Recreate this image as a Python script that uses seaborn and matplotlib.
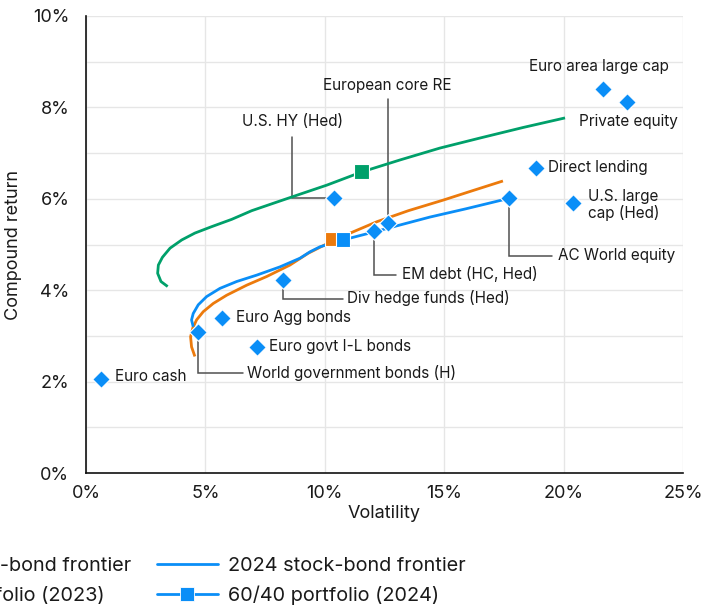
import numpy as np
import pandas as pd
import matplotlib
matplotlib.use("Agg")
import matplotlib.pyplot as plt
import seaborn as sns
from matplotlib.lines import Line2D
from matplotlib.ticker import FuncFormatter, MultipleLocator

# ---------------- data ----------------
asset_names = ["Euro cash", "World government bonds (H)", "Euro Agg bonds",
               "Euro govt I-L bonds", "Div hedge funds (Hed)", "U.S. HY (Hed)",
               "EM debt (HC, Hed)", "European core RE", "AC World equity",
               "Direct lending", "U.S. large\ncap (Hed)", "Euro area large cap",
               "Private equity"]
asset_vol = [0.63, 4.69, 5.70, 7.16, 8.25, 10.39, 12.08, 12.65, 17.73, 18.84, 20.39, 21.63, 22.65]
asset_ret = [2.06, 3.09, 3.39, 2.76, 4.22, 6.02, 5.30, 5.48, 6.02, 6.67, 5.90, 8.41, 8.12]

green_vol = [3.42, 3.14, 3.00, 3.03, 3.20, 3.52, 4.01, 4.56, 5.26, 6.10, 6.94, 7.89, 8.90,
             10.09, 11.56, 13.15, 14.82, 16.50, 18.30, 20.06]
green_ret = [4.08, 4.19, 4.37, 4.55, 4.72, 4.92, 5.10, 5.25, 5.39, 5.55, 5.74, 5.91, 6.09,
             6.30, 6.59, 6.85, 7.11, 7.33, 7.56, 7.77]

f2023_vol = [4.56, 4.42, 4.38, 4.47, 4.63, 4.91, 5.33, 5.89, 6.73, 7.57, 8.54, 9.31, 10.22,
             11.20, 12.19, 13.50, 14.95, 16.20, 17.46]
f2023_ret = [2.55, 2.76, 2.98, 3.17, 3.35, 3.53, 3.71, 3.89, 4.11, 4.30, 4.55, 4.81, 5.05,
             5.28, 5.50, 5.74, 5.97, 6.18, 6.39]

f2024_vol = [4.49, 4.42, 4.49, 4.70, 5.05, 5.61, 6.31, 7.15, 8.12, 8.96, 9.38, 9.80, 10.51,
             11.06, 12.10, 13.10, 14.40, 15.90, 17.40, 17.70]
f2024_ret = [3.20, 3.35, 3.49, 3.68, 3.86, 4.04, 4.19, 4.33, 4.51, 4.70, 4.84, 4.95, 5.06,
             5.14, 5.28, 5.42, 5.60, 5.78, 5.97, 6.01]

p6040_labels = ["60/40 portfolio (2023)", "60/40 portfolio (2024)", "Green portfolio"]
p6040_vol = [10.30, 10.76, 11.54]
p6040_ret = [5.12, 5.11, 6.60]

x_ticks = [0, 5, 10, 15, 20, 25]
y_ticks = [0, 2, 4, 6, 8, 10]

# ---------------- style ----------------
sns.set_theme(style="white")
plt.rcParams["font.family"] = ["Inter", "DejaVu Sans"]

BLUE = "#0a8ef7"
ORANGE = "#ec7a0c"
GREEN = "#00a06a"
LEADER = "#505050"
TEXT = "#1a1a1a"

fig = plt.figure(figsize=(7.2, 6.09), dpi=100)
ax = fig.add_axes([86 / 720, 1 - 473 / 609, (683 - 86) / 720, (473 - 16) / 609])

# frontiers
sns.lineplot(x=green_vol, y=green_ret, sort=False, estimator=None, ax=ax,
             color=GREEN, lw=2.0, zorder=3)
sns.lineplot(x=f2023_vol, y=f2023_ret, sort=False, estimator=None, ax=ax,
             color=ORANGE, lw=2.0, zorder=3)
sns.lineplot(x=f2024_vol, y=f2024_ret, sort=False, estimator=None, ax=ax,
             color=BLUE, lw=2.0, zorder=4)
for l in ax.lines:
    l.set_solid_joinstyle("round")
    l.set_solid_capstyle("butt")

# portfolios
sns.scatterplot(x=p6040_vol, y=p6040_ret, hue=p6040_labels,
                palette=[ORANGE, BLUE, GREEN], marker="s", s=110,
                edgecolor="white", linewidth=0.8, ax=ax, zorder=6, legend=False)

# assets
sns.scatterplot(x=asset_vol, y=asset_ret, color=BLUE, marker="D", s=80,
                edgecolor="white", linewidth=0.8, ax=ax, zorder=7, legend=False)

# ---------------- annotations ----------------
afs = 11
def lab(i, x, y, ha="left", va="center"):
    ax.text(x, y, asset_names[i], ha=ha, va=va, fontsize=afs, color=TEXT, zorder=8)

def leader(pts):
    xs, ys = zip(*pts)
    ax.plot(xs, ys, color=LEADER, lw=1.1, zorder=2, solid_joinstyle="miter")

# Euro cash
lab(0, 1.21, 2.12)
# World government bonds (H)
leader([(asset_vol[1], asset_ret[1]), (asset_vol[1], 2.19), (6.57, 2.19)])
lab(1, 6.74, 2.19)
# Euro Agg bonds
lab(2, 6.28, 3.41)
# Euro govt I-L bonds
lab(3, 7.66, 2.77)
# Div hedge funds
leader([(asset_vol[4], asset_ret[4]), (asset_vol[4], 3.81), (10.76, 3.81)])
lab(4, 10.93, 3.82)
# U.S. HY
leader([(8.63, 7.35), (8.63, asset_ret[5]), (asset_vol[5], asset_ret[5])])
lab(5, 8.63, 7.70, ha="center")
# EM debt
leader([(asset_vol[6], asset_ret[6]), (asset_vol[6], 4.33), (12.98, 4.33)])
lab(6, 13.23, 4.35)
# European core RE
leader([(asset_vol[7], 8.18), (asset_vol[7], asset_ret[7])])
lab(7, 12.6, 8.49, ha="center")
# AC World equity
leader([(asset_vol[8], asset_ret[8]), (asset_vol[8], 4.75), (19.51, 4.75)])
lab(8, 19.77, 4.77)
# Direct lending
lab(9, 19.35, 6.68)
# U.S. large cap
ax.text(21.02, 5.86, asset_names[10], ha="left", va="center", fontsize=afs,
        color=TEXT, linespacing=1.05, zorder=8)
# Euro area large cap
lab(11, 21.48, 8.90, ha="center")
# Private equity
lab(12, 20.65, 7.70)

# ---------------- axes ----------------
ax.set_xlim(0, 25)
ax.set_ylim(0, 10)
ax.set_xticks(x_ticks)
ax.set_yticks(y_ticks)
ax.yaxis.set_minor_locator(MultipleLocator(1))
ax.xaxis.set_major_formatter(FuncFormatter(lambda v, p: f"{v:.0f}%"))
ax.yaxis.set_major_formatter(FuncFormatter(lambda v, p: f"{v:.0f}%"))
ax.grid(True, which="major", axis="x", color="#e6e6e6", lw=1.0)
ax.grid(True, which="both", axis="y", color="#e6e6e6", lw=1.0)
ax.set_axisbelow(True)
ax.tick_params(axis="both", which="both", length=0, labelsize=13, labelcolor=TEXT)
ax.tick_params(axis="x", pad=9)
ax.tick_params(axis="y", pad=12)
for s in ["top", "right"]:
    ax.spines[s].set_visible(False)
for s in ["left", "bottom"]:
    ax.spines[s].set_color("#111111")
    ax.spines[s].set_linewidth(1.2)
ax.set_xlabel("Volatility", fontsize=13, color=TEXT, labelpad=2)
ax.set_ylabel("Compound return", fontsize=13, color=TEXT, labelpad=8)

# ---------------- legend ----------------
def line_h(c):
    return Line2D([], [], color=c, lw=2.0)

def sq_h(c):
    return Line2D([], [], color=c, lw=2.0, marker="s", markersize=10,
                  markeredgecolor="white", markeredgewidth=0.6)

leg_kw = dict(frameon=False, fontsize=14.3, handlelength=3.07, handletextpad=0.5,
              labelspacing=0.51, borderpad=0, borderaxespad=0, labelcolor=TEXT)
leg1 = fig.legend([line_h(ORANGE), sq_h(ORANGE)],
                  ["2023 stock-bond frontier", "60/40 portfolio (2023)"],
                  loc="upper right", bbox_to_anchor=(131 / 720, 1 - 557 / 609), **leg_kw)
leg1._legend_box.align = "left"
leg2 = fig.legend([line_h(BLUE), sq_h(BLUE)],
                  ["2024 stock-bond frontier", "60/40 portfolio (2024)"],
                  loc="upper left", bbox_to_anchor=(157 / 720, 1 - 557 / 609), **leg_kw)

fig.savefig("out.png", dpi=100)
